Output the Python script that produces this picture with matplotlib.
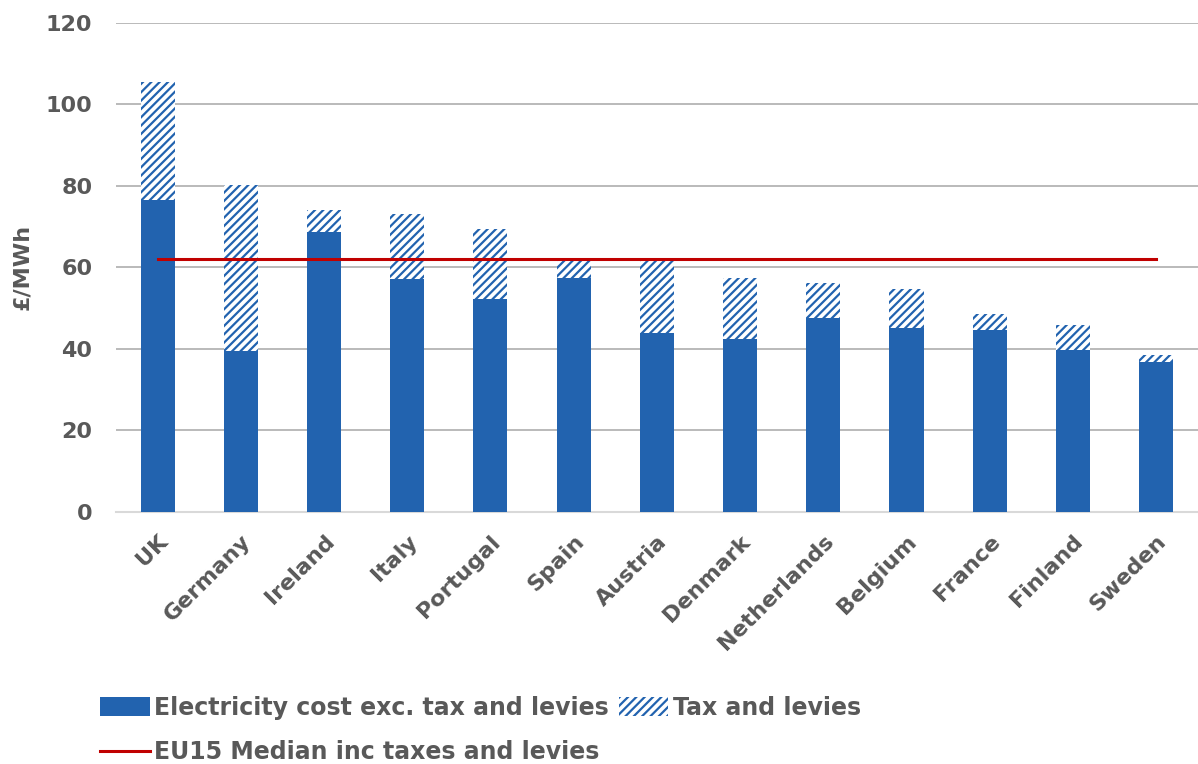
import matplotlib
matplotlib.use('Agg')
import matplotlib.pyplot as plt
import numpy as np

plt.rcParams['font.family'] = ['DejaVu Sans']
plt.rcParams['font.weight'] = 'bold'
plt.rcParams['hatch.linewidth'] = 1.6

countries = ['UK', 'Germany', 'Ireland', 'Italy', 'Portugal', 'Spain', 'Austria',
             'Denmark', 'Netherlands', 'Belgium', 'France', 'Finland', 'Sweden']
# electricity cost exc. tax and levies (£/MWh)
cost = [76.5, 39.5, 68.7, 57.1, 52.3, 57.4, 44.0, 42.4, 47.6, 45.1, 44.6, 39.7, 36.7]
# total inc. tax and levies (£/MWh)
total = [105.5, 80.1, 74.2, 73.1, 69.4, 62.0, 61.8, 57.5, 56.1, 54.6, 48.6, 45.8, 38.5]
tax = [t - c for t, c in zip(total, cost)]
median = 62.0

blue = '#2263AF'
red = '#C00000'
grey = '#595959'

fig = plt.figure(figsize=(11.98, 7.64), dpi=100)
ax = fig.add_axes([0.0968, 0.330, 0.903, 0.640])

x = np.arange(len(countries))
b1 = ax.bar(x, cost, width=0.41, color=blue, linewidth=0,
            label='Electricity cost exc. tax and levies', zorder=3)
b2 = ax.bar(x, tax, width=0.41, bottom=cost, color='white', edgecolor=blue,
            hatch='////', linewidth=0, label='Tax and levies', zorder=3)
ln, = ax.plot([x[0], x[-1]], [median, median], color=red, linewidth=2.2,
              label='EU15 Median inc taxes and levies', zorder=4)

ax.set_xlim(-0.5, len(countries) - 0.5)
ax.set_ylim(0, 120)
ax.set_yticks(range(0, 121, 20))
ax.yaxis.grid(True, color='#B4B4B4', linewidth=1.3, zorder=0)
ax.set_axisbelow(True)
for s in ['top', 'right', 'left']:
    ax.spines[s].set_visible(False)
ax.spines['bottom'].set_color('#D9D9D9')
ax.spines['bottom'].set_linewidth(1.5)

ax.set_xticks(x)
ax.set_xticklabels(countries, rotation=45, ha='right', rotation_mode='anchor')
ax.tick_params(axis='both', length=0, labelsize=16, labelcolor=grey)
ax.tick_params(axis='y', pad=17)
ax.tick_params(axis='x', pad=14)
ax.set_ylabel('£/MWh', fontsize=16, color=grey, fontweight='bold', labelpad=10)

# ncol=2 fills column-wise: cost + median in col 1, tax in col 2
fig.legend([b1, ln, b2], [b1.get_label(), ln.get_label(), b2.get_label()], ncol=2,
           loc='upper left', bbox_to_anchor=(100 / 1198, 1 - 696 / 764),
           frameon=False, borderpad=0, borderaxespad=0,
           handlelength=2.1, handleheight=0.85, handletextpad=0.2,
           columnspacing=0.4, labelspacing=0.86,
           prop={'size': 17, 'weight': 'bold'}, labelcolor=grey)

fig.savefig('out.png', dpi=100)
